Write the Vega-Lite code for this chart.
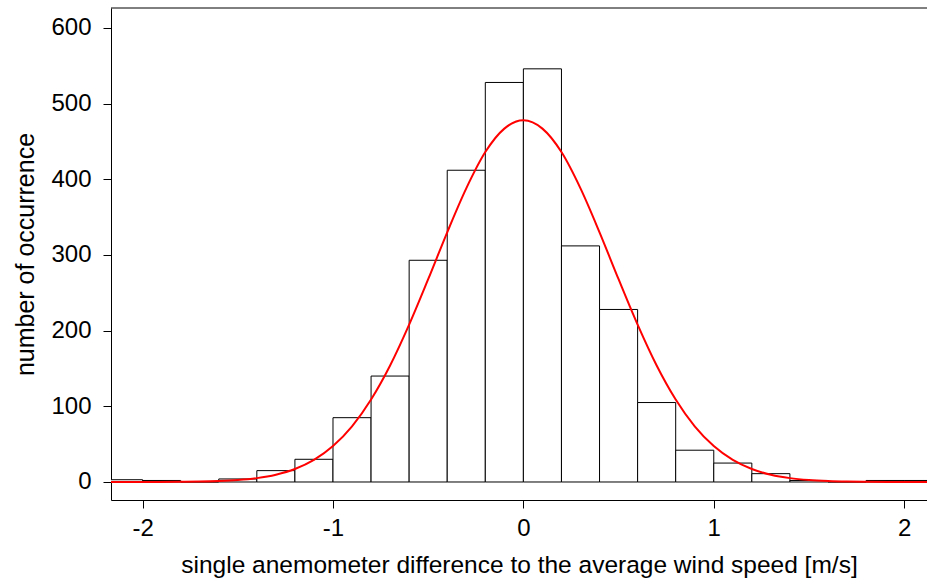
{
  "$schema": "https://vega.github.io/schema/vega-lite/v6.json",
  "autosize": {"type": "none"},
  "padding": {"left": 111, "top": 8, "right": 0, "bottom": 84},
  "width": 816,
  "height": 492,
  "background": "white",
  "config": {
    "view": {"stroke": null},
    "font": "Liberation Sans",
    "axis": {
      "labelFont": "Liberation Sans",
      "titleFont": "Liberation Sans",
      "labelFontSize": 24,
      "titleFontSize": 25,
      "titleFontWeight": "normal",
      "labelColor": "#000",
      "titleColor": "#000",
      "domainColor": "#000",
      "tickColor": "#000",
      "domainWidth": 1,
      "tickWidth": 1,
      "tickSize": 8,
      "grid": false
    }
  },
  "datasets": {
    "bins": [
      {"lo": -2.2, "hi": -2.0, "count": 3},
      {"lo": -2.0, "hi": -1.8, "count": 2},
      {"lo": -1.8, "hi": -1.6, "count": 0},
      {"lo": -1.6, "hi": -1.4, "count": 4},
      {"lo": -1.4, "hi": -1.2, "count": 15},
      {"lo": -1.2, "hi": -1.0, "count": 30},
      {"lo": -1.0, "hi": -0.8, "count": 85},
      {"lo": -0.8, "hi": -0.6, "count": 140},
      {"lo": -0.6, "hi": -0.4, "count": 293},
      {"lo": -0.4, "hi": -0.2, "count": 412},
      {"lo": -0.2, "hi": 0.0, "count": 528},
      {"lo": 0.0, "hi": 0.2, "count": 546},
      {"lo": 0.2, "hi": 0.4, "count": 312},
      {"lo": 0.4, "hi": 0.6, "count": 228},
      {"lo": 0.6, "hi": 0.8, "count": 105},
      {"lo": 0.8, "hi": 1.0, "count": 42},
      {"lo": 1.0, "hi": 1.2, "count": 25},
      {"lo": 1.2, "hi": 1.4, "count": 11},
      {"lo": 1.4, "hi": 1.6, "count": 2},
      {"lo": 1.6, "hi": 1.8, "count": 0},
      {"lo": 1.8, "hi": 2.0, "count": 2},
      {"lo": 2.0, "hi": 2.2, "count": 2}
    ],
    "curve": [
      {"x": -2.2, "y": 0.0},
      {"x": -2.0, "y": 0.05},
      {"x": -1.8, "y": 0.3},
      {"x": -1.7, "y": 0.6},
      {"x": -1.6, "y": 1.3},
      {"x": -1.5, "y": 2.6},
      {"x": -1.4, "y": 5.1},
      {"x": -1.3, "y": 9.6},
      {"x": -1.2, "y": 17.1},
      {"x": -1.1, "y": 29.1},
      {"x": -1.0, "y": 47.4},
      {"x": -0.9, "y": 73.5},
      {"x": -0.8, "y": 109},
      {"x": -0.7, "y": 154},
      {"x": -0.6, "y": 208},
      {"x": -0.5, "y": 268},
      {"x": -0.4, "y": 330},
      {"x": -0.3, "y": 388},
      {"x": -0.2, "y": 436},
      {"x": -0.1, "y": 467},
      {"x": 0.0, "y": 478},
      {"x": 0.1, "y": 467},
      {"x": 0.2, "y": 436},
      {"x": 0.3, "y": 388},
      {"x": 0.4, "y": 330},
      {"x": 0.5, "y": 268},
      {"x": 0.6, "y": 208},
      {"x": 0.7, "y": 154},
      {"x": 0.8, "y": 109},
      {"x": 0.9, "y": 73.5},
      {"x": 1.0, "y": 47.4},
      {"x": 1.1, "y": 29.1},
      {"x": 1.2, "y": 17.1},
      {"x": 1.3, "y": 9.6},
      {"x": 1.4, "y": 5.1},
      {"x": 1.5, "y": 2.6},
      {"x": 1.6, "y": 1.3},
      {"x": 1.7, "y": 0.6},
      {"x": 1.8, "y": 0.3},
      {"x": 2.0, "y": 0.05},
      {"x": 2.2, "y": 0.0}
    ]
  },
  "layer": [
    {
      "data": {"name": "bins"},
      "mark": {"type": "rect", "fill": "white", "stroke": "#000", "strokeWidth": 1, "clip": true},
      "encoding": {
        "x": {
          "field": "lo", "type": "quantitative",
          "scale": {"domain": [-2.166, 2.12], "nice": false, "zero": false},
          "axis": {
            "values": [-2, -1, 0, 1, 2],
            "labelExpr": "datum.value < 0 ? '-' + abs(datum.value) : '' + datum.value",
            "title": "single anemometer difference to the average wind speed [m/s]",
            "titleFontSize": 24.5,
            "labelPadding": 8,
            "titlePadding": 13,
            "labelFlush": false
          }
        },
        "x2": {"field": "hi"},
        "y": {
          "field": "count", "type": "quantitative",
          "scale": {"domain": [-23.8, 626.4], "nice": false, "zero": false},
          "axis": {
            "values": [0, 100, 200, 300, 400, 500, 600],
            "title": "number of occurrence",
            "labelPadding": 12,
            "titlePadding": 12,
            "labelFlush": false
          }
        },
        "y2": {"datum": 0}
      }
    },
    {
      "data": {"name": "curve"},
      "mark": {"type": "line", "color": "#ff0000", "strokeWidth": 2, "interpolate": "monotone", "clip": true},
      "encoding": {
        "x": {"field": "x", "type": "quantitative"},
        "y": {"field": "y", "type": "quantitative"}
      }
    },
    {
      "data": {"values": [{"a": 1}]},
      "mark": {"type": "rule", "color": "#000", "strokeWidth": 1},
      "encoding": {
        "x": {"datum": -2.166},
        "x2": {"datum": 2.2},
        "y": {"datum": 626.4}
      }
    }
  ]
}
